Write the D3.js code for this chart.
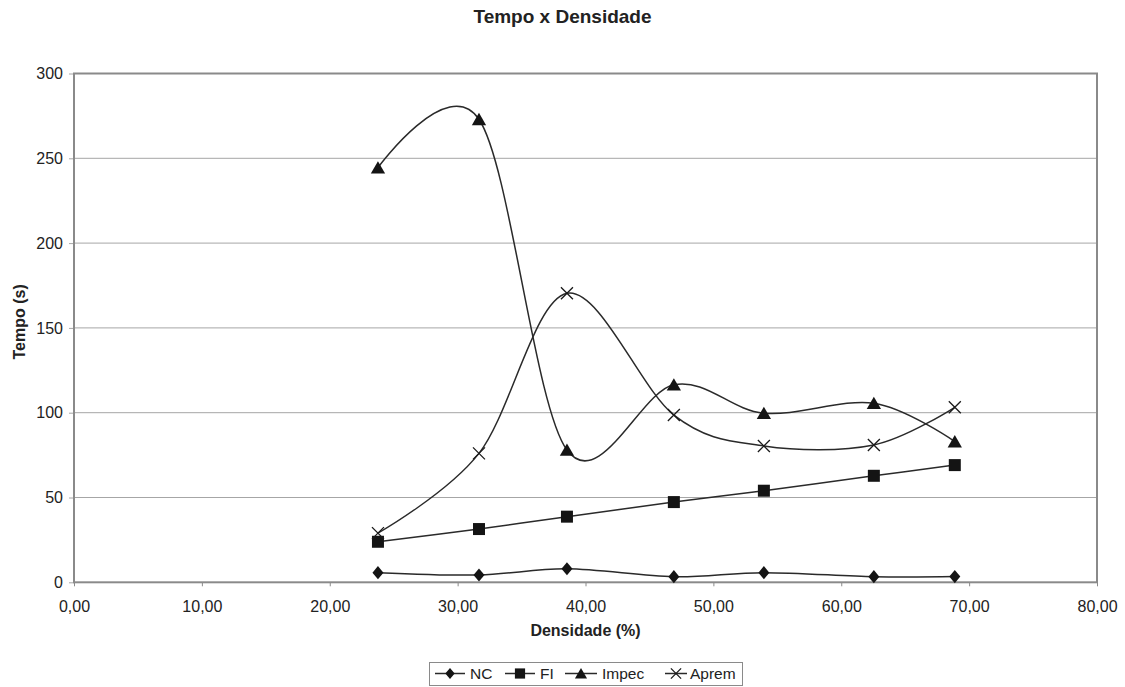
<!DOCTYPE html>
<html>
<head>
<meta charset="utf-8">
<script src="https://cdn.jsdelivr.net/npm/d3@7"></script>
<style>
  html, body { margin: 0; padding: 0; background: #fff; }
  svg { display: block; font-family: "Liberation Sans", Arial, sans-serif; }
</style>
</head>
<body>
<svg id="chart" width="1125" height="687"></svg>
<script>
// Densidade (%) for each measurement
const density = [23.77, 31.67, 38.55, 46.91, 53.95, 62.55, 68.88];
// Tempo (s) per method
const nc    = [5.7, 4.3, 8.0, 3.3, 5.7, 3.3, 3.4];
const fi    = [23.9, 31.4, 38.7, 47.3, 54.0, 62.8, 69.1];
const impec = [244.5, 273, 78, 116.5, 99.7, 105.6, 83];
const aprem = [29, 76, 170.4, 98.6, 80.4, 81.0, 103.2];

const seriesNames = ["NC", "FI", "Impec", "Aprem"];
const seriesValues = [nc, fi, impec, aprem];
const seriesMarkers = ["diamond", "square", "triangle", "cross"];

const xTicks = [0, 10, 20, 30, 40, 50, 60, 70, 80];
const yTicks = [0, 50, 100, 150, 200, 250, 300];

const svg = d3.select("#chart");
const plotLeft = 74, plotRight = 1097, plotTop = 73.5, plotBottom = 582.3;

const x = d3.scaleLinear().domain([0, 80]).range([plotLeft, plotRight]);
const y = d3.scaleLinear().domain([0, 300]).range([plotBottom, plotTop]);

const ptBR = d3.formatLocale({ decimal: ",", thousands: ".", grouping: [3], currency: ["R$", ""] });
const fmtX = ptBR.format(".2f");

const textColor = "#222";
const gridColor = "#a6a6a6";
const frameColor = "#8a8a8a";

// Horizontal gridlines
svg.append("g")
  .selectAll("line")
  .data(yTicks.filter(d => d > 0 && d < 300))
  .join("line")
  .attr("x1", plotLeft).attr("x2", plotRight)
  .attr("y1", d => y(d)).attr("y2", d => y(d))
  .attr("stroke", gridColor).attr("stroke-width", 1);

// Y axis
const yAxis = svg.append("g")
  .attr("transform", `translate(${plotLeft},0)`)
  .call(d3.axisLeft(y).tickValues(yTicks).tickSize(5).tickPadding(6).tickFormat(d3.format("d")));
yAxis.select(".domain").remove();
yAxis.selectAll(".tick line").attr("stroke", gridColor);
yAxis.selectAll(".tick text")
  .attr("font-size", 16).attr("fill", textColor)
  .attr("font-family", "Liberation Sans, Arial, sans-serif");

// X axis
const xAxis = svg.append("g")
  .attr("transform", `translate(0,${plotBottom})`)
  .call(d3.axisBottom(x).tickValues(xTicks).tickSize(4).tickPadding(14).tickFormat(fmtX));
xAxis.select(".domain").remove();
xAxis.selectAll(".tick line").attr("stroke", frameColor);
xAxis.selectAll(".tick text")
  .attr("font-size", 16).attr("fill", textColor)
  .attr("font-family", "Liberation Sans, Arial, sans-serif");

// Plot frame
svg.append("rect")
  .attr("x", plotLeft).attr("y", plotTop)
  .attr("width", plotRight - plotLeft).attr("height", plotBottom - plotTop)
  .attr("fill", "none").attr("stroke", frameColor).attr("stroke-width", 2);

// Marker shapes
function markerPath(type, s) {
  switch (type) {
    case "diamond": return `M0,${-s * 0.6}L${s * 0.5},0L0,${s * 0.6}L${-s * 0.5},0Z`;
    case "square":  return `M${-s / 2},${-s / 2}h${s}v${s}h${-s}Z`;
    case "triangle": return `M0,${-s * 0.5}L${s * 0.55},${s * 0.45}L${-s * 0.55},${s * 0.45}Z`;
    case "cross": return `M${-s / 2},${-s / 2}L${s / 2},${s / 2}M${s / 2},${-s / 2}L${-s / 2},${s / 2}`;
  }
}
const markerSize = { diamond: 11, square: 12, triangle: 13, cross: 12 };

const line = d3.line()
  .x(d => x(d[0]))
  .y(d => y(d[1]))
  .curve(d3.curveCardinal.tension(0));

seriesValues.forEach((vals, i) => {
  const pts = density.map((dx, j) => [dx, vals[j]]);
  const g = svg.append("g").attr("class", "series-" + seriesNames[i]);
  g.append("path")
    .attr("d", line(pts))
    .attr("fill", "none").attr("stroke", "#2a2a2a").attr("stroke-width", 1.5);
  const type = seriesMarkers[i];
  g.selectAll("path.mk")
    .data(pts)
    .join("path")
    .attr("class", "mk")
    .attr("transform", d => `translate(${x(d[0])},${y(d[1])})`)
    .attr("d", markerPath(type, markerSize[type]))
    .attr("fill", type === "cross" ? "none" : "#141414")
    .attr("stroke", type === "cross" ? "#1a1a1a" : "none")
    .attr("stroke-width", 1.3);
});

// Title
svg.append("text")
  .attr("x", 562.5).attr("y", 23)
  .attr("text-anchor", "middle")
  .attr("font-size", 19).attr("font-weight", "bold").attr("fill", textColor)
  .text("Tempo x Densidade");

// Axis titles
svg.append("text")
  .attr("x", (plotLeft + plotRight) / 2).attr("y", 636)
  .attr("text-anchor", "middle")
  .attr("font-size", 16).attr("font-weight", "bold").attr("fill", textColor)
  .text("Densidade (%)");

svg.append("text")
  .attr("transform", `translate(25,${(plotTop + plotBottom) / 2 - 6}) rotate(-90)`)
  .attr("text-anchor", "middle")
  .attr("font-size", 16).attr("font-weight", "bold").attr("fill", textColor)
  .text("Tempo (s)");

// Legend
const legend = svg.append("g");
legend.append("rect")
  .attr("x", 429.5).attr("y", 662.5).attr("width", 313).attr("height", 23)
  .attr("fill", "#fff").attr("stroke", "#8a8a8a").attr("stroke-width", 1);

const legendX = [435, 505, 565, 665];
const legendLabelX = [470, 540, 602, 690];
const legendLineW = [30, 30, 32, 22];
const legendY = 673.5;
seriesNames.forEach((name, i) => {
  const type = seriesMarkers[i];
  legend.append("line")
    .attr("x1", legendX[i]).attr("x2", legendX[i] + legendLineW[i])
    .attr("y1", legendY).attr("y2", legendY)
    .attr("stroke", "#2a2a2a").attr("stroke-width", 1.5);
  legend.append("path")
    .attr("transform", `translate(${legendX[i] + legendLineW[i] / 2},${legendY})`)
    .attr("d", markerPath(type, markerSize[type] * 0.85))
    .attr("fill", type === "cross" ? "none" : "#141414")
    .attr("stroke", type === "cross" ? "#1a1a1a" : "none")
    .attr("stroke-width", 1.3);
  legend.append("text")
    .attr("x", legendLabelX[i]).attr("y", legendY + 5.5)
    .attr("font-size", 15.5).attr("fill", textColor)
    .text(name);
});
</script>
</body>
</html>
